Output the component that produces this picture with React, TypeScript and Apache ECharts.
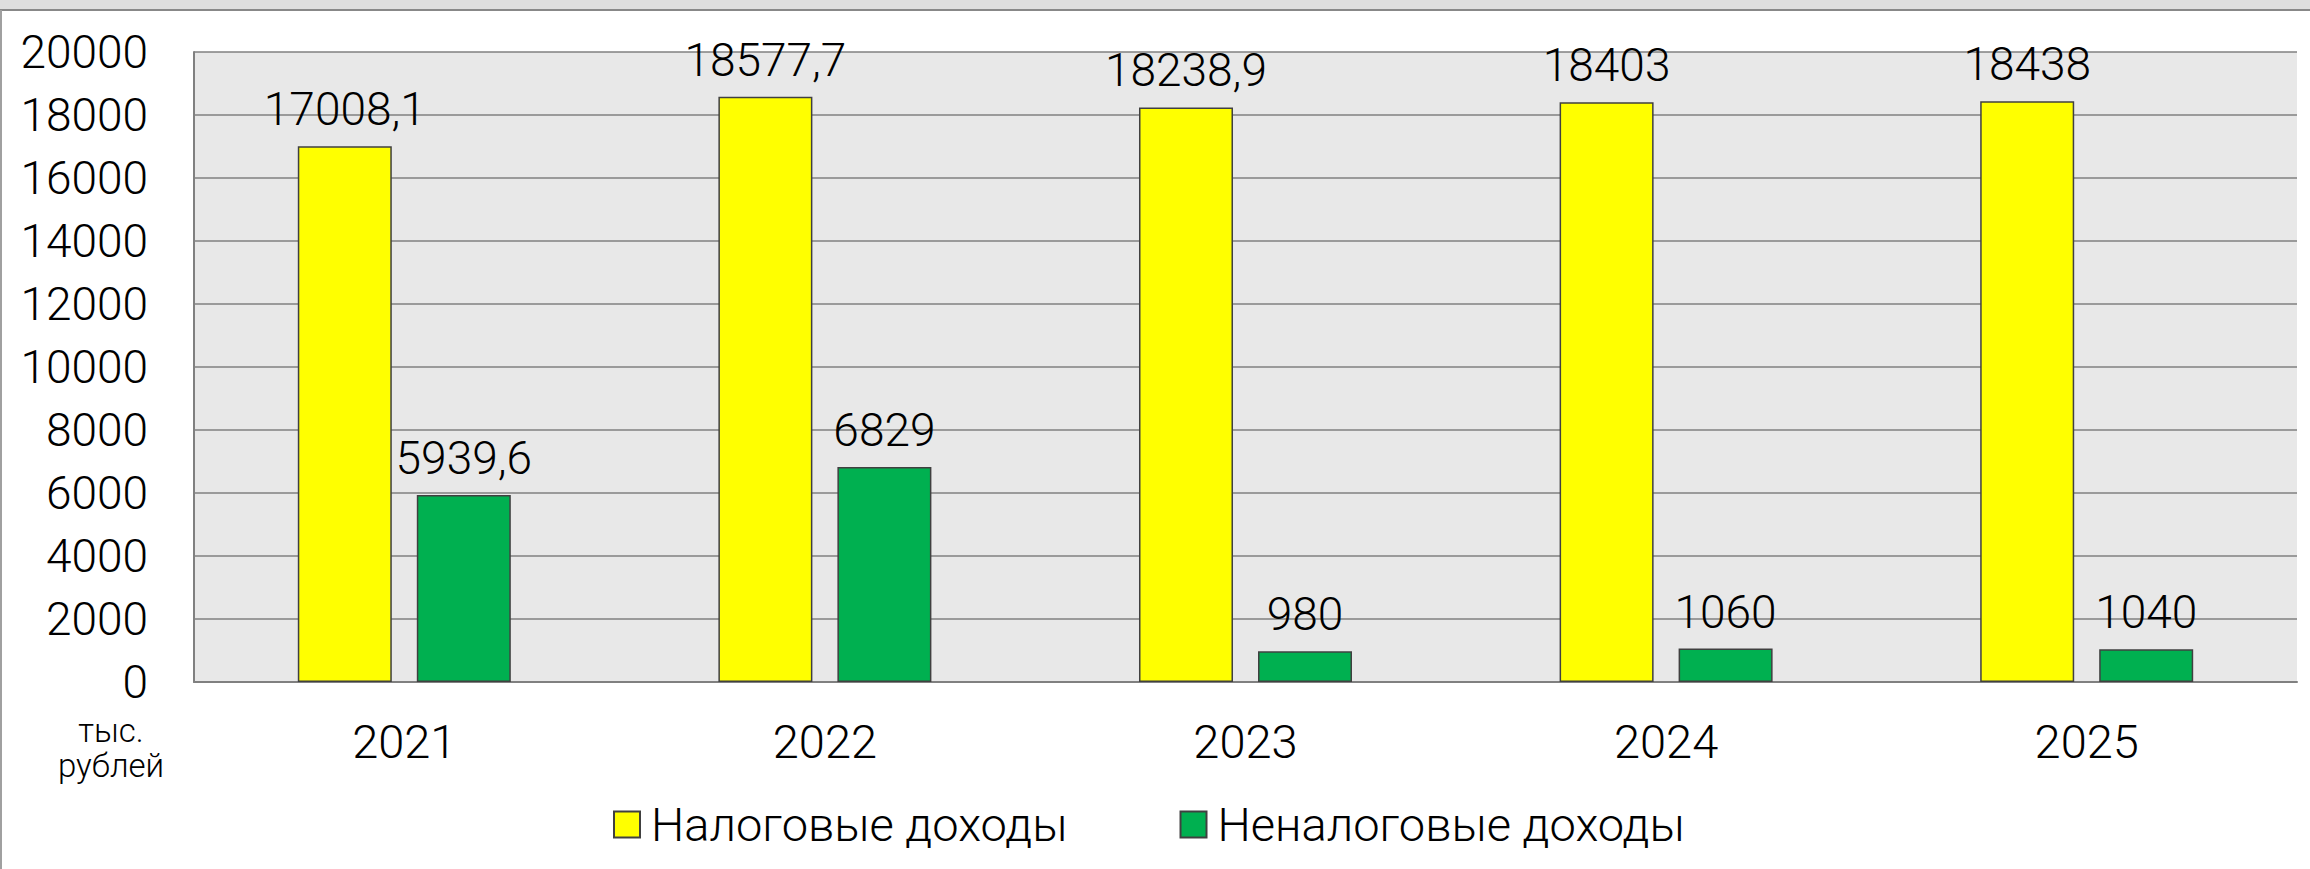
import React, { useEffect, useRef } from "react";
import * as echarts from "echarts";

const categories = ["2021", "2022", "2023", "2024", "2025"];
const taxIncome = [17008.1, 18577.7, 18238.9, 18403, 18438];
const nonTaxIncome = [5939.6, 6829, 980, 1060, 1040];
const seriesNames = ["Налоговые доходы", "Неналоговые доходы"];
const unitLines = ["тыс.", "рублей"];

const FONT = "Roboto";
const WEIGHT = 300;

const fmt = (v: number) => String(v).replace(".", ",");

export default function App() {
  const ref = useRef<HTMLDivElement>(null);
  useEffect(() => {
    document.body.style.margin = "0";
    const chart = echarts.init(ref.current!, null, { renderer: "svg" });
    const barBorder = { borderColor: "#404040", borderWidth: 1.5 };
    const label = {
      show: true,
      position: "top" as const,
      distance: 14,
      color: "#000",
      fontSize: 46,
      fontFamily: FONT,
      fontWeight: WEIGHT,
      formatter: (p: any) => fmt(p.value),
    };
    const unitTexts = unitLines.map((t, i) => ({
      type: "text",
      x: 111,
      y: 730 + i * 35,
      style: {
        text: t,
        fontSize: 33,
        fontFamily: FONT,
        fontWeight: WEIGHT,
        fill: "#000",
        align: "center",
        verticalAlign: "middle",
      },
      silent: true,
    }));
    chart.setOption({
      animation: false,
      backgroundColor: "#ffffff",
      textStyle: { fontFamily: FONT },
      grid: {
        left: 194,
        right: 13,
        top: 52,
        bottom: 187,
        show: true,
        backgroundColor: "#e8e8e8",
        borderWidth: 0,
      },
      legend: {
        data: seriesNames,
        left: 613,
        top: 801,
        padding: 0,
        icon: "rect",
        itemWidth: 26,
        itemHeight: 26,
        itemGap: 112,
        textStyle: {
          fontSize: 47,
          color: "#000",
          fontFamily: FONT,
          fontWeight: WEIGHT,
          padding: [0, 0, 0, 6],
        },
      },
      xAxis: {
        type: "category",
        data: categories,
        axisLine: { show: true, lineStyle: { color: "#808080", width: 2 } },
        axisTick: { show: false },
        axisLabel: { fontSize: 47, color: "#000", fontFamily: FONT, fontWeight: WEIGHT, margin: 36 },
      },
      yAxis: {
        type: "value",
        min: 0,
        max: 20000,
        interval: 2000,
        axisLine: { show: true, lineStyle: { color: "#808080", width: 2 } },
        axisTick: { show: false },
        splitLine: { show: true, lineStyle: { color: "#808080", width: 1.5 } },
        axisLabel: {
          fontSize: 46,
          color: "#000",
          fontFamily: FONT,
          fontWeight: WEIGHT,
          margin: 46,
          formatter: (v: number) => String(v),
        },
      },
      graphic: [
        {
          type: "rect",
          shape: { x: 0, y: 0, width: 2310, height: 9 },
          style: { fill: "#dedede" },
          silent: true,
        },
        {
          type: "line",
          shape: { x1: 0, y1: 10, x2: 2310, y2: 10 },
          style: { stroke: "#888888", lineWidth: 2 },
          silent: true,
        },
        {
          type: "line",
          shape: { x1: 1, y1: 10, x2: 1, y2: 869 },
          style: { stroke: "#a0a0a0", lineWidth: 2 },
          silent: true,
        },
        ...unitTexts,
      ],
      series: [
        {
          name: seriesNames[0],
          type: "bar",
          data: taxIncome,
          barWidth: 94,
          barGap: "26.6%",
          itemStyle: { color: "#ffff00", ...barBorder },
          label,
        },
        {
          name: seriesNames[1],
          type: "bar",
          data: nonTaxIncome,
          barWidth: 94,
          itemStyle: { color: "#00b050", ...barBorder },
          label,
        },
      ],
    });
    return () => chart.dispose();
  }, []);
  return <div ref={ref} style={{ width: 2310, height: 869 }} />;
}
